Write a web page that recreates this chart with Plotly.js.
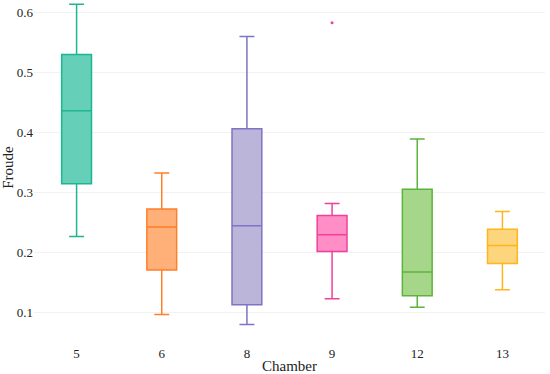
<!DOCTYPE html>
<html><head><meta charset="utf-8">
<script src="https://cdn.plot.ly/plotly-3.0.1.min.js"></script>
<style>body{margin:0;background:#fff}#c{width:550px;height:374px}</style>
</head><body><div id="c"></div>
<script>
const chambers = ["5","6","8","9","12","13"];
const lowerWhisker = [0.226, 0.096, 0.079, 0.122, 0.108, 0.137];
const q1Values     = [0.314, 0.170, 0.112, 0.201, 0.127, 0.181];
const medians      = [0.436, 0.242, 0.244, 0.229, 0.167, 0.211];
const q3Values     = [0.530, 0.272, 0.406, 0.261, 0.305, 0.238];
const upperWhisker = [0.614, 0.332, 0.560, 0.281, 0.389, 0.268];
const outlierChamber = ["9"];
const outlierValues  = [0.583];

const lineColors = ["#1DB592","#FF7F2A","#7D74C6","#F2409A","#5DB43C","#FFB51C"];
const fillColors = ["rgba(102,207,184,1)","rgba(255,175,120,1)","rgba(187,181,218,1)","rgba(255,142,198,1)","rgba(165,214,138,1)","rgba(252,213,125,1)"];

const traces = chambers.map((c,i)=>({
  type:'box', x:[c], q1:[q1Values[i]], median:[medians[i]], q3:[q3Values[i]],
  lowerfence:[lowerWhisker[i]], upperfence:[upperWhisker[i]],
  line:{color:lineColors[i], width:1.5}, fillcolor:fillColors[i],
  whiskerwidth:0.5, boxpoints:false, hoverinfo:'skip', showlegend:false
}));
traces.push({type:'scatter', mode:'markers', x:outlierChamber, y:outlierValues,
  marker:{color:lineColors[3], size:3}, showlegend:false, hoverinfo:'skip'});

const fam = 'Liberation Serif';
Plotly.newPlot('c', traces, {
  width:550, height:374,
  margin:{l:34, r:5, t:0, b:39},
  paper_bgcolor:'#fff', plot_bgcolor:'#fff',
  font:{family:fam, color:'#222', size:13},
  boxgap:0.5,
  xaxis:{type:'category', categoryorder:'array', categoryarray:chambers,
    showgrid:false, zeroline:false, showline:false, ticks:'', ticklabelstandoff:9,
    title:{text:'Chamber', font:{family:fam, size:15, color:'#222'}, standoff:2},
    tickfont:{family:fam, size:13, color:'#222'}},
  yaxis:{range:[0.0616, 0.621], tickvals:[0.1,0.2,0.3,0.4,0.5,0.6],
    ticktext:['0.1','0.2','0.3','0.4','0.5','0.6'],
    showgrid:true, gridcolor:'#f2f2f2', gridwidth:1, zeroline:false, showline:false, ticks:'',
    title:{text:'Froude', font:{family:fam, size:15, color:'#222'}, standoff:4},
    tickfont:{family:fam, size:13, color:'#222'}}
}, {staticPlot:true});
</script></body></html>
